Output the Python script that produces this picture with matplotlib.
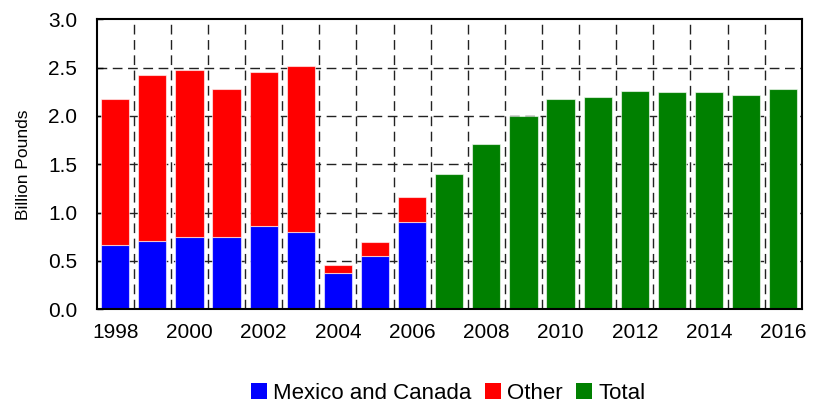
import matplotlib
matplotlib.use("Agg")
import matplotlib.pyplot as plt
import numpy as np
from matplotlib.patches import Patch

plt.rcParams['font.family'] = ['Liberation Sans', 'DejaVu Sans']

# Stacked years: imports split by origin (billion pounds)
split_years = [1998, 1999, 2000, 2001, 2002, 2003, 2004, 2005, 2006]
mexico_canada = [0.67, 0.71, 0.75, 0.75, 0.865, 0.80, 0.38, 0.555, 0.905]
other_total = [2.18, 2.42, 2.475, 2.28, 2.46, 2.52, 0.46, 0.70, 1.16]
other = [t - m for t, m in zip(other_total, mexico_canada)]

# Later years: only the total is reported
total_years = [2007, 2008, 2009, 2010, 2011, 2012, 2013, 2014, 2015, 2016]
total = [1.40, 1.71, 2.00, 2.18, 2.20, 2.26, 2.245, 2.245, 2.22, 2.275]

tick_years = [1998, 2000, 2002, 2004, 2006, 2008, 2010, 2012, 2014, 2016]
yticks = [0.0, 0.5, 1.0, 1.5, 2.0, 2.5, 3.0]

blue = '#0000FF'
red = '#FF0000'
green = '#008000'

fig = plt.figure(figsize=(8.18, 4.04), dpi=100)
ax = fig.add_axes([0.1182, 0.2344, 0.8620, 0.7178])

all_years = split_years + total_years
first = all_years[0]
xs_split = np.array(split_years) - first
xs_total = np.array(total_years) - first

bw = 0.76
edge = dict(edgecolor=(1, 1, 1, 0.6), linewidth=0.8, zorder=3)
ax.bar(xs_split, mexico_canada, width=bw, color=blue, **edge)
ax.bar(xs_split, other, width=bw, bottom=mexico_canada, color=red, **edge)
ax.bar(xs_total, total, width=bw, color=green, **edge)

n = len(all_years)
ax.set_xlim(-0.5, n - 0.5)
ax.set_ylim(0, 3.0)

# dashed grid: horizontal at every y tick, vertical at category boundaries
grid_kw = dict(color='#222222', linewidth=1.0, linestyle=(0, (7, 4)), zorder=1)
for y in yticks[1:-1]:
    ax.axhline(y, **grid_kw)
for b in np.arange(0.5, n - 0.5, 1.0):
    ax.axvline(b, **grid_kw)

ax.set_xticks([y - first for y in tick_years])
ax.set_xticklabels([str(y) for y in tick_years], fontsize=15)
ax.set_yticks(yticks)
ax.set_yticklabels([f"{v:.1f}" for v in yticks], fontsize=15)
ax.tick_params(axis='x', length=0, pad=10)
ax.tick_params(axis='y', direction='in', length=4, width=1, pad=14)

for s in ax.spines.values():
    s.set_linewidth(1.5)
    s.set_color('black')
    s.set_zorder(4)

ax.set_ylabel('Billion Pounds', fontsize=12.5, labelpad=12)

handles = [Patch(facecolor=blue, edgecolor='none'),
           Patch(facecolor=red, edgecolor='none'),
           Patch(facecolor=green, edgecolor='none')]
fig.legend(handles, ['Mexico and Canada', 'Other', 'Total'],
           loc='center', bbox_to_anchor=(0.548, 0.027), ncol=3, frameon=False,
           fontsize=16, handlelength=0.7, handleheight=0.7,
           handletextpad=0.3, columnspacing=0.6)

fig.savefig('out.png', dpi=100)
